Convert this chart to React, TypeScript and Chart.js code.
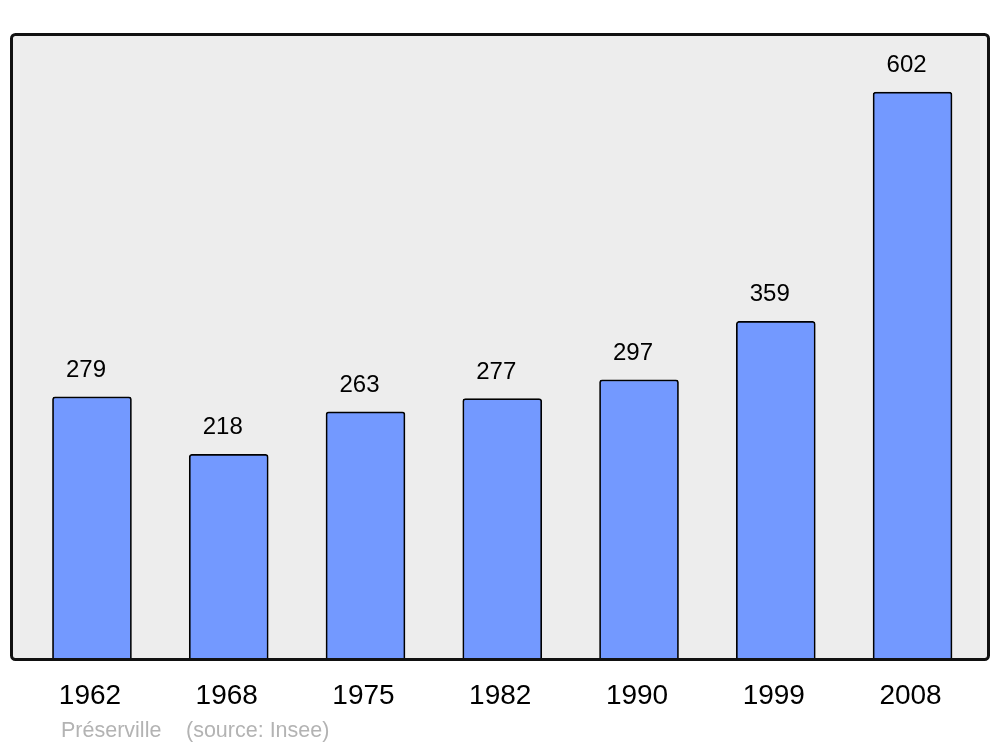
import React, { useEffect, useRef } from "react";
import { Chart, registerables } from "chart.js";

Chart.register(...registerables);

const years = ["1962", "1968", "1975", "1982", "1990", "1999", "2008"];
const population = [279, 218, 263, 277, 297, 359, 602];
const placeName = "Préserville";
const sourceText = "(source: Insee)";

const FONT = "'Liberation Sans', Arial, sans-serif";

export default function App() {
  const ref = useRef<HTMLCanvasElement | null>(null);

  useEffect(() => {
    if (!ref.current) return;

    const framePlugin = {
      id: "frame",
      beforeDraw(chart: any) {
        const { ctx, chartArea: a } = chart;
        ctx.save();
        ctx.fillStyle = "#ededed";
        ctx.beginPath();
        ctx.roundRect(a.left, a.top, a.right - a.left, a.bottom - a.top, 4);
        ctx.fill();
        ctx.restore();
      },
      afterDraw(chart: any) {
        const { ctx, chartArea: a } = chart;
        ctx.save();
        ctx.strokeStyle = "#111111";
        ctx.lineWidth = 3;
        ctx.beginPath();
        ctx.roundRect(a.left + 0.5, a.top + 0.5, a.right - a.left - 1, a.bottom - a.top - 1, 4);
        ctx.stroke();
        ctx.fillStyle = "#b3b3b3";
        ctx.font = `21.5px ${FONT}`;
        ctx.textBaseline = "alphabetic";
        ctx.textAlign = "left";
        ctx.fillText(placeName, 61, 737);
        ctx.fillText(sourceText, 186, 737);
        ctx.restore();
      },
    };

    const labelPlugin = {
      id: "valueLabels",
      afterDatasetsDraw(chart: any) {
        const { ctx } = chart;
        const meta = chart.getDatasetMeta(0);
        ctx.save();
        ctx.fillStyle = "#000";
        ctx.font = `24px ${FONT}`;
        ctx.textAlign = "center";
        ctx.textBaseline = "alphabetic";
        meta.data.forEach((bar: any, i: number) => {
          ctx.fillText(String(population[i]), bar.x - 6, bar.y - 20);
        });
        ctx.restore();
      },
    };

    const chart = new Chart(ref.current, {
      type: "bar",
      data: {
        datasets: [
          {
            data: years.map((_, i) => ({ x: i, y: population[i] })),
            backgroundColor: "#7399ff",
            borderColor: "#000000",
            borderWidth: 1.7,
            borderRadius: 3,
            borderSkipped: "bottom",
            barThickness: 79,
          },
        ],
      },
      options: {
        responsive: false,
        animation: false,
        layout: { padding: { left: 11, right: 11, top: 34, bottom: 0 } },
        plugins: { legend: { display: false }, tooltip: { enabled: false } },
        scales: {
          x: {
            type: "linear",
            offset: false,
            min: -0.592,
            max: 6.559,
            grid: { display: false, drawTicks: false, offset: false },
            border: { display: false },
            afterFit: (scale: any) => {
              scale.height = 87;
            },
            ticks: {
              stepSize: 1,
              includeBounds: false,
              autoSkip: false,
              maxRotation: 0,
              padding: 19,
              labelOffset: -2,
              color: "#000",
              font: { family: FONT, size: 28 },
              callback: (v: any) => (Number.isInteger(v) && years[v] ? years[v] : ""),
            },
          },
          y: {
            display: false,
            min: 0,
            max: 663.5,
          },
        },
      },
      plugins: [framePlugin, labelPlugin],
    });

    return () => chart.destroy();
  }, []);

  return (
    <div style={{ position: "fixed", left: 0, top: 0, width: 1000, height: 747, background: "#fff" }}>
      <canvas ref={ref} width={1000} height={747} />
    </div>
  );
}
